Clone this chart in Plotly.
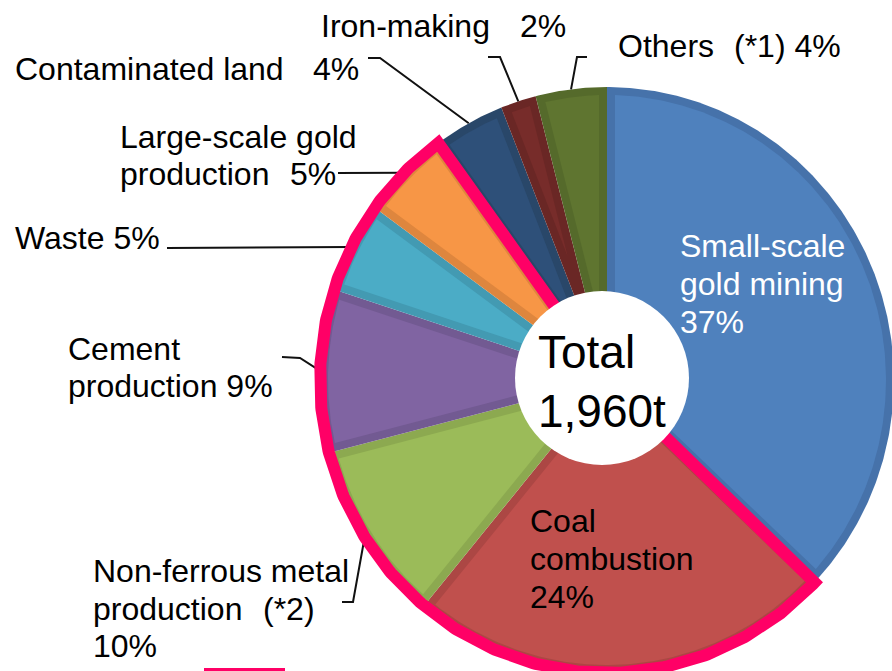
import numpy as np
import plotly.graph_objects as go

# ---------------- data ----------------
categories = [
    "Small-scale gold mining",
    "Coal combustion",
    "Non-ferrous metal production (*2)",
    "Cement production",
    "Waste",
    "Large-scale gold production",
    "Contaminated land",
    "Iron-making",
    "Others (*1)",
]
shares = [37, 24, 10, 9, 5, 5, 4, 2, 4]          # percent of total emissions
total_lines = ["Total", "1,960t"]
highlighted = ["Coal combustion", "Non-ferrous metal production (*2)",
               "Cement production", "Waste", "Large-scale gold production"]

# label text pieces per category (text, left px, baseline px)
label_pieces = {
    "Small-scale gold mining": [("Small-scale", 680, 257), ("gold mining", 680, 295),
                                (f"{shares[0]}%", 680, 333)],
    "Coal combustion": [("Coal", 530, 532), ("combustion", 530, 570), (f"{shares[1]}%", 530, 608)],
    "Non-ferrous metal production (*2)": [("Non-ferrous metal", 93, 582),
                                          ("production", 93, 620), ("(*2)", 263, 620),
                                          (f"{shares[2]}%", 93, 657)],
    "Cement production": [("Cement", 68, 360), (f"production {shares[3]}%", 68, 397)],
    "Waste": [(f"Waste {shares[4]}%", 15, 249)],
    "Large-scale gold production": [("Large-scale gold", 120, 148),
                                    ("production", 120, 185), (f"{shares[5]}%", 290, 185)],
    "Contaminated land": [("Contaminated land", 15, 80), (f"{shares[6]}%", 313, 80)],
    "Iron-making": [("Iron-making", 321, 37), (f"{shares[7]}%", 520, 37)],
    "Others (*1)": [("Others", 618, 57), (f"(*1) {shares[8]}%", 734, 57)],
}
# leader-line anchor points on the label side (px)
leader_anchor = {
    "Contaminated land": [(368, 58), (380, 58)],
    "Iron-making": [(488, 57), (500, 57)],
    "Others (*1)": [(587, 57), (577, 57)],
    "Large-scale gold production": [(338, 173)],
    "Waste": [(167, 248)],
    "Cement production": [(282, 357), (300, 358)],
    "Non-ferrous metal production (*2)": [(342, 602), (353, 602)],
}

# ---------------- style ----------------
fill_colors = ["#4F81BD", "#C0504D", "#9BBB59", "#8064A2", "#4BACC6",
               "#F79646", "#2E5079", "#772C2A", "#5F7530"]
edge_colors = ["#4672AA", "#AC4744", "#8CA950", "#725A92", "#439AB2",
               "#DE863E", "#294769", "#6A2725", "#556A2B"]
label_colors = {"Small-scale gold mining": "white"}
PINK = "#FF0066"
FONT = "Arial, Liberation Sans, sans-serif"

W, H = 892, 671
CX, CY = 607, 380       # pie centre (px)
RX, RY = 287, 293       # pie radii (px)
BEVEL = 8               # darker inner band width (px)
LBL_SIZE = 32
TOT_SIZE = 46


def pt(t, rx=RX, ry=RY):
    return (CX + rx * np.sin(t), CY - ry * np.cos(t))


def clip_halfplane(poly, n, c0):
    out = []
    m = len(poly)
    for i in range(m):
        P, Q = poly[i], poly[(i + 1) % m]
        fp = n[0] * P[0] + n[1] * P[1] - c0
        fq = n[0] * Q[0] + n[1] * Q[1] - c0
        if fp >= 0:
            out.append(P)
        if (fp >= 0) != (fq >= 0):
            s = fp / (fp - fq)
            out.append((P[0] + s * (Q[0] - P[0]), P[1] + s * (Q[1] - P[1])))
    return out


fig = go.Figure()

total = float(sum(shares))
cum = np.concatenate([[0], np.cumsum(shares)]) / total * 2 * np.pi
mid_angle = {}

for i, cat in enumerate(categories):
    t0, t1 = cum[i], cum[i + 1]
    mid_angle[cat] = (t0 + t1) / 2
    n = max(10, int((t1 - t0) / (2 * np.pi) * 720))
    ts = np.linspace(t0, t1, n)
    xs = [CX] + [pt(t)[0] for t in ts] + [CX]
    ys = [CY] + [pt(t)[1] for t in ts] + [CY]
    fig.add_trace(go.Scatter(x=xs, y=ys, fill="toself", fillcolor=edge_colors[i],
                             mode="lines", line=dict(width=0, color=edge_colors[i]),
                             hoverinfo="skip", showlegend=False))
    # inner (lighter) region, inset by BEVEL px
    poly = [(0.0, 0.0)] + [(pt(t, RX - BEVEL, RY - BEVEL)[0] - CX,
                            pt(t, RX - BEVEL, RY - BEVEL)[1] - CY) for t in ts]
    tm = (t0 + t1) / 2
    dm = np.array(pt(tm)) - np.array([CX, CY])
    for te in (t0, t1):
        u = np.array(pt(te)) - np.array([CX, CY])
        u = u / np.linalg.norm(u)
        nrm = np.array([-u[1], u[0]])
        if nrm @ dm < 0:
            nrm = -nrm
        poly = clip_halfplane(poly, nrm, BEVEL)
    if len(poly) > 2:
        px = [p[0] + CX for p in poly] + [poly[0][0] + CX]
        py = [p[1] + CY for p in poly] + [poly[0][1] + CY]
        fig.add_trace(go.Scatter(x=px, y=py, fill="toself", fillcolor=fill_colors[i],
                                 mode="lines", line=dict(width=0, color=fill_colors[i]),
                                 hoverinfo="skip", showlegend=False))

# leader lines
for cat, pts in leader_anchor.items():
    end = pt(mid_angle[cat])
    xs = [p[0] for p in pts] + [end[0]]
    ys = [p[1] for p in pts] + [end[1]]
    fig.add_trace(go.Scatter(x=xs, y=ys, mode="lines", line=dict(color="#111111", width=2),
                             hoverinfo="skip", showlegend=False))

# pink outline around highlighted group
idx = [categories.index(c) for c in highlighted]
ta, tb = cum[min(idx)], cum[max(idx) + 1]
ts = np.linspace(ta, tb, 400)
xs = [CX] + [pt(t)[0] for t in ts] + [CX]
ys = [CY] + [pt(t)[1] for t in ts] + [CY]
fig.add_trace(go.Scatter(x=xs, y=ys, mode="lines", line=dict(color=PINK, width=12),
                         hoverinfo="skip", showlegend=False))

annotations = []


def add_text(text, x, baseline, size, color="black"):
    annotations.append(dict(
        x=x / W, y=1 - (baseline - 0.3465 * size) / H, xref="paper", yref="paper",
        xanchor="left", yanchor="middle", text=text, showarrow=False,
        font=dict(family=FONT, size=size, color=color), borderpad=0, borderwidth=0))


for cat in categories:
    for text, x, b in label_pieces[cat]:
        add_text(text, x, b, LBL_SIZE, label_colors.get(cat, "black"))

add_text(total_lines[0], 538, 368, TOT_SIZE)
add_text(total_lines[1], 538, 427, TOT_SIZE)

shapes = [
    dict(type="circle", xref="paper", yref="paper",
         x0=515 / W, x1=689 / W, y0=1 - 465 / H, y1=1 - 291 / H,
         fillcolor="white", line=dict(width=0), layer="above"),
    dict(type="rect", xref="paper", yref="paper",
         x0=204 / W, x1=285 / W, y0=0, y1=1 - 668 / H,
         fillcolor=PINK, line=dict(width=0), layer="above"),
]

fig.update_layout(
    width=W, height=H, margin=dict(l=0, r=0, t=0, b=0),
    paper_bgcolor="white", plot_bgcolor="white", showlegend=False,
    xaxis=dict(range=[0, W], visible=False, fixedrange=True),
    yaxis=dict(range=[H, 0], visible=False, fixedrange=True),
    annotations=annotations, shapes=shapes,
)

fig.write_html("out.html", config={"displayModeBar": False},
               post_script="document.body.style.margin='0';document.body.style.overflow='hidden';")
